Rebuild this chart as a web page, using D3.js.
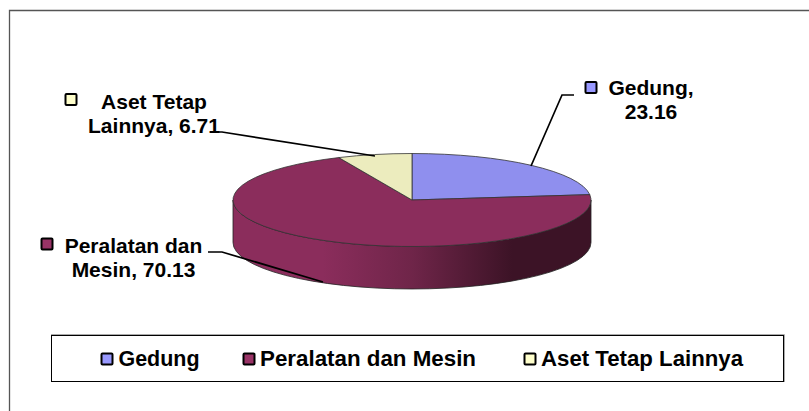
<!DOCTYPE html>
<html><head><meta charset="utf-8">
<style>html,body{margin:0;padding:0;background:#fff}svg{display:block}
text{font-family:"Liberation Sans",Arial,sans-serif;font-weight:bold;fill:#000}</style>
<script src="https://cdnjs.cloudflare.com/ajax/libs/d3/7.8.5/d3.min.js"></script>
</head><body><script>
const categories=["Gedung","Peralatan dan Mesin","Aset Tetap Lainnya"];
const values=[23.16,70.13,6.71];
const colors=["#8f8fee","#8b2d5c","#ececbe"];
const swatchColors=["#9999ff","#993366","#ffffcc"];
const labelLines=[["Gedung,","23.16"],["Peralatan dan","Mesin, 70.13"],["Aset Tetap","Lainnya, 6.71"]];

const W=809,H=411,cx=412,cy=200,rx=179,ry=46.5,depth=42.5;
const svg=d3.select("body").append("svg").attr("width",W).attr("height",H);
const defs=svg.append("defs");
const grad=defs.append("linearGradient").attr("id","wall").attr("gradientUnits","userSpaceOnUse")
 .attr("x1",cx-rx).attr("x2",cx+rx).attr("y1",0).attr("y2",0);
[[0,"#8b2d5c"],[.25,"#8b2d5c"],[.5,"#6f2549"],[.78,"#3c1326"],[1,"#3c1326"]]
 .forEach(([o,c])=>grad.append("stop").attr("offset",o).attr("stop-color",c));

// chart frame: open on right and bottom
svg.append("path").attr("d",`M9.5,${H}V10.5H${W}`).attr("fill","none").attr("stroke","#555").attr("stroke-width",1.3);

// wall
svg.append("path")
 .attr("d",`M${cx-rx},${cy}V${cy+depth}A${rx},${ry} 0 0 0 ${cx+rx},${cy+depth}V${cy}A${rx},${ry} 0 0 1 ${cx-rx},${cy}Z`)
 .attr("fill","url(#wall)").attr("stroke","#222").attr("stroke-width",.8);

// top slices
const pie=d3.pie().sort(null).value(d=>d)(values);
const arc=d3.arc().innerRadius(0).outerRadius(rx);
svg.append("g").attr("transform",`translate(${cx},${cy}) scale(1,${ry/rx})`)
 .selectAll("path").data(pie).join("path")
 .attr("d",arc).attr("fill",(d,i)=>colors[i])
 .attr("stroke","#333").attr("stroke-width",.8).attr("vector-effect","non-scaling-stroke");

// leader lines
const leaders=[[[574,95],[562,95],[531,166]],[[208,252],[222,252],[323,282]],[[213,132],[222,132],[375,156]]];
svg.append("g").selectAll("path").data(leaders).join("path")
 .attr("d",d3.line()).attr("fill","none").attr("stroke","#000").attr("stroke-width",1.7);

// data labels
const labelPos=[[651,95],[133.5,252.5],[154,109]];
const swatchPos=[[585.5,82],[41.5,238.5],[65.5,94]];
const lab=svg.append("g").attr("font-size",21);
labelLines.forEach((ls,i)=>{
 const t=lab.append("text").attr("text-anchor","middle");
 ls.forEach((s,j)=>t.append("tspan").attr("x",labelPos[i][0]).attr("y",labelPos[i][1]+j*24.2).text(s));
});
const sw=(x,y,c)=>svg.append("rect").attr("x",x).attr("y",y).attr("width",11).attr("height",11)
 .attr("fill",c).attr("stroke","#000").attr("stroke-width",2).attr("rx",1);
swatchPos.forEach(([x,y],i)=>sw(x,y,swatchColors[i]));

// legend
svg.append("path").attr("d","M51,334.5H784.5V382").attr("fill","none").attr("stroke","#aaa").attr("stroke-width",1);
svg.append("rect").attr("x",51.5).attr("y",335.5).attr("width",732).attr("height",46).attr("fill","#fff").attr("stroke","#000").attr("stroke-width",1);
const legX=[[101.5,118.5,81],[243.5,260,216],[524.5,541,202]];
categories.forEach((c,i)=>{
 sw(legX[i][0],353.5,swatchColors[i]);
 svg.append("text").attr("x",legX[i][1]).attr("y",366).attr("font-size",22).attr("textLength",legX[i][2]).attr("lengthAdjust","spacingAndGlyphs").text(c);
});
</script></body></html>
